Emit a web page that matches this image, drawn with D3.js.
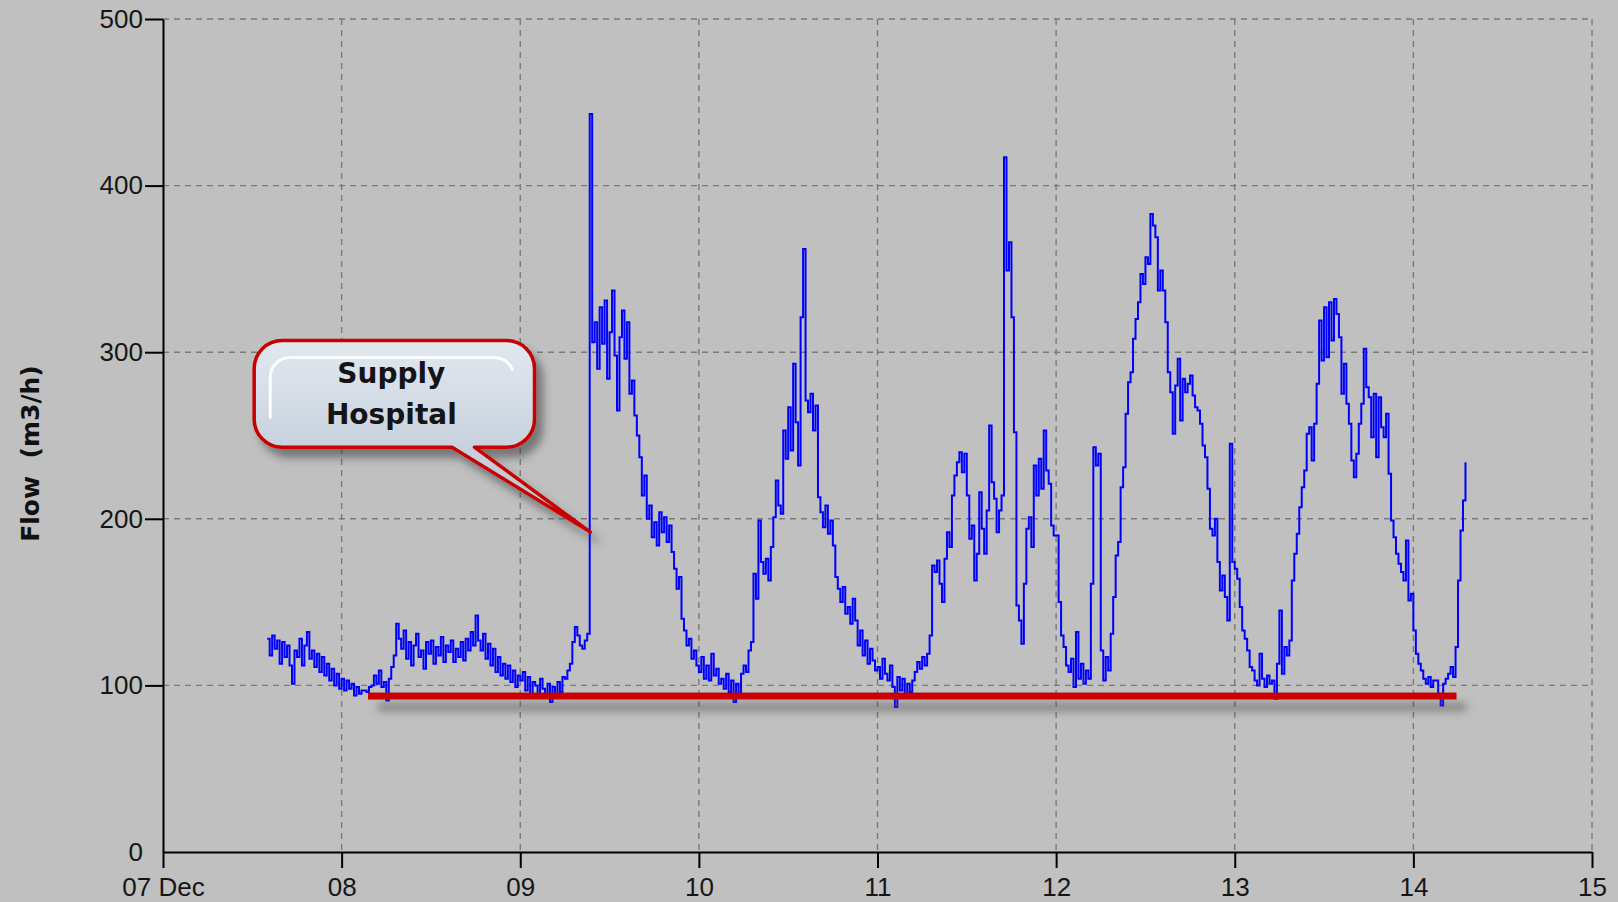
<!DOCTYPE html>
<html>
<head>
<meta charset="utf-8">
<script src="https://cdn.jsdelivr.net/npm/d3@7"></script>
<style>
  html, body { margin: 0; padding: 0; background: #c0c0c0; }
  svg { display: block; }
</style>
</head>
<body>
<svg id="chart" width="1618" height="902"></svg>
<script>
// Flow readings (m3/h), logged every 20 minutes, one array per calendar day.
// 07 Dec starts at 14:00, every other day starts at 00:00.
const flow07 = [
  128,118,130, 122,127,113, 126,117,124, 112,101,121, 117,128,112,
  124,132,116, 121,111,119, 108,117,106, 113,103,110, 100,107,98
];
const flow08 = [
  104,97,103, 98,101,94, 99,95,97, 97,96,99, 100,106,101, 109,99,102,
  91,104,111, 118,137,128, 122,133,116, 126,112,124, 131,117,121, 110,126,119,
  127,113,123, 118,129,114, 124,120,127, 114,122,117, 126,115,128, 121,132,124,
  142,127,121, 131,116,125, 112,122,108, 117,106,113, 104,112,102, 109,99,106
];
const flow09 = [
  103,108,97, 105,95,102, 100,94,104, 98,93,101, 90,99,95, 102,96,105,
  104,109,113, 126,135,130, 124,122,127, 131,443,306, 318,290,327, 305,331,284,
  312,337,298, 265,309,325, 296,318,275, 283,262,250, 237,214,226, 200,208,189,
  198,184,204, 192,201,186, 196,180,170, 158,165,140, 133,124,128, 116,121,112
];
const flow10 = [
  108,117,104, 112,103,119, 106,110,101, 104,98,107, 96,103,90, 101,95,107,
  112,108,121, 126,167,152, 199,174,167, 176,163,183, 201,223,208, 203,253,236,
  267,241,293, 258,232,321, 362,271,264, 275,253,268, 213,204,195, 208,191,199,
  184,165,158, 150,159,143, 147,137,152, 139,124,133, 118,127,113, 122,115,109
];
const flow11 = [
  111,104,116, 107,103,112, 99,87,105, 97,104,95, 101,96,103, 108,114,110,
  117,112,119, 130,172,168, 175,161,150, 176,192,183, 214,226,234, 240,228,239,
  214,188,196, 163,179,216, 194,179,205, 256,222,212, 192,205,214, 417,349,366,
  321,252,148, 139,125,161, 194,201,183, 232,214,236, 218,253,229, 221,196,190
];
const flow12 = [
  190,150,130, 123,112,108, 116,99,132, 104,113,101, 109,104,161, 243,232,239,
  121,103,117, 109,131,153, 178,186,219, 231,263,282, 288,308,320, 330,347,341,
  357,353,383, 376,369,337, 349,337,318, 288,276,251, 280,296,259, 284,276,281,
  286,274,267, 265,257,244, 237,218,194, 190,200,174, 157,166,153, 139,245,174
];
const flow13 = [
  170,164,147, 133,128,121, 111,109,103, 100,119,104, 99,106,101, 103,92,113,
  145,107,123, 118,127,163, 179,191,207, 219,229,251, 255,235,257, 281,319,295,
  327,297,330, 307,332,323, 309,275,293, 269,257,235, 225,239,257, 269,302,279,
  273,249,275, 237,273,255, 249,263,227, 199,189,179, 173,168,163, 187,151,155
];
const flow14 = [
  133,119,113, 109,104,101, 105,99,103, 103,95,88, 101,104,107, 111,105,123,
  163,193,211, 234
];

const logDays = [7, 8, 9, 10, 11, 12, 13, 14];
const logStartMinute = [14 * 60, 0, 0, 0, 0, 0, 0, 0];
const logStepMinutes = 20;

const yTicks = [0, 100, 200, 300, 400, 500];
const xTickDays = [7, 8, 9, 10, 11, 12, 13, 14, 15];
const xTickLabels = ["07 Dec", "08", "09", "10", "11", "12", "13", "14", "15"];

// Night-time minimum flow marker
const baselineValue = 93.6;
const baselineSpan = [Date.UTC(2010, 11, 8, 3, 33), Date.UTC(2010, 11, 14, 5, 48)];

// Callout pointing at the start of the hospital supply
const calloutLines = ["Supply", "Hospital"];
const calloutBoxTime = [Date.UTC(2010, 11, 7, 12, 15), Date.UTC(2010, 11, 9, 1, 55)];
const calloutBoxValue = [307, 243];
const calloutNeckTime = [Date.UTC(2010, 11, 8, 14, 50), Date.UTC(2010, 11, 8, 17, 50)];
const calloutTip = { time: Date.UTC(2010, 11, 9, 9, 25), value: 192 };

// ---------------------------------------------------------------------------
const dailySeries = [flow07, flow08, flow09, flow10, flow11, flow12, flow13, flow14];
const points = dailySeries.flatMap((vals, k) =>
  vals.map((v, i) => ({
    t: new Date(Date.UTC(2010, 11, logDays[k], 0, logStartMinute[k] + i * logStepMinutes)),
    v
  }))
);

const W = 1618, H = 902;
const margin = { top: 19, right: 26, bottom: 50, left: 163 };
const svg = d3.select("#chart");

const x = d3.scaleUtc()
  .domain([Date.UTC(2010, 11, 7), Date.UTC(2010, 11, 15)])
  .range([margin.left, W - margin.right]);
const y = d3.scaleLinear()
  .domain([0, 500])
  .range([H - margin.bottom, margin.top]);

const defs = svg.append("defs");

function shadowFilter(id, dx, dy, sd, color, opacity) {
  const f = defs.append("filter").attr("id", id)
    .attr("filterUnits", "userSpaceOnUse")
    .attr("x", 0).attr("y", 0).attr("width", W).attr("height", H);
  f.append("feDropShadow")
    .attr("dx", dx).attr("dy", dy).attr("stdDeviation", sd)
    .attr("flood-color", color).attr("flood-opacity", opacity);
}
shadowFilter("dropShadow", 7, 9, 4, "#3a3a3a", 0.55);
shadowFilter("lineShadow", 10, 11, 4.5, "#4a4a4a", 0.6);

const boxFill = defs.append("linearGradient").attr("id", "boxFill")
  .attr("x1", 0).attr("y1", 0).attr("x2", 0).attr("y2", 1);
boxFill.append("stop").attr("offset", "0%").attr("stop-color", "#e2e8f0");
boxFill.append("stop").attr("offset", "45%").attr("stop-color", "#cdd6e1");
boxFill.append("stop").attr("offset", "100%").attr("stop-color", "#b5c0cf");

// Grid
const grid = svg.append("g")
  .attr("stroke", "#7a7a7a")
  .attr("stroke-width", 1.4)
  .attr("stroke-dasharray", "6,5");
grid.selectAll("line.h")
  .data(yTicks.filter(d => d > 0))
  .join("line")
  .attr("class", "h")
  .attr("x1", x.range()[0]).attr("x2", x.range()[1])
  .attr("y1", d => y(d)).attr("y2", d => y(d));
grid.selectAll("line.v")
  .data(xTickDays.filter(d => d > 7))
  .join("line")
  .attr("class", "v")
  .attr("x1", d => x(Date.UTC(2010, 11, d))).attr("x2", d => x(Date.UTC(2010, 11, d)))
  .attr("y1", y(500)).attr("y2", y(0));

// Flow trace (logger steps)
svg.append("path")
  .datum(points)
  .attr("fill", "none")
  .attr("stroke", "#0000ff")
  .attr("stroke-width", 2)
  .attr("d", d3.line().curve(d3.curveStepAfter).x(d => x(d.t)).y(d => y(d.v)));

// Minimum night flow marker
const baseTh = 7;
svg.append("rect")
  .attr("x", x(baselineSpan[0]))
  .attr("width", x(baselineSpan[1]) - x(baselineSpan[0]))
  .attr("y", y(baselineValue) - baseTh / 2)
  .attr("height", baseTh)
  .attr("fill", "#c80000")
  .attr("filter", "url(#lineShadow)");

// Axes
const axisFont = "'Liberation Sans', Arial, sans-serif";
const yAxis = svg.append("g")
  .attr("transform", `translate(${margin.left},0)`)
  .call(d3.axisLeft(y).tickValues(yTicks).tickSize(18).tickSizeOuter(0).tickPadding(2));
yAxis.select(".domain").attr("stroke", "#000").attr("stroke-width", 2);
yAxis.selectAll(".tick line").attr("stroke", "#000").attr("stroke-width", 2)
  .filter(d => d === 0).remove();
yAxis.selectAll(".tick text")
  .attr("font-family", axisFont).attr("font-size", 26).attr("fill", "#161616");

const xAxis = svg.append("g")
  .attr("transform", `translate(0,${y(0)})`)
  .call(d3.axisBottom(x)
    .tickValues(xTickDays.map(d => new Date(Date.UTC(2010, 11, d))))
    .tickFormat((d, i) => xTickLabels[i])
    .tickSize(16).tickSizeOuter(0).tickPadding(10));
xAxis.select(".domain").attr("stroke", "#000").attr("stroke-width", 2);
xAxis.selectAll(".tick line").attr("stroke", "#000").attr("stroke-width", 2);
xAxis.selectAll(".tick text")
  .attr("font-family", axisFont).attr("font-size", 26).attr("fill", "#161616");

svg.append("text")
  .attr("transform", `translate(39,${(y(0) + y(500)) / 2 + 18}) rotate(-90)`)
  .attr("text-anchor", "middle")
  .attr("font-family", "'DejaVu Sans', sans-serif")
  .attr("font-weight", "bold")
  .attr("font-size", 25)
  .attr("fill", "#111")
  .style("white-space", "pre")
  .text("Flow  (m3/h)");

// Callout
const bx0 = x(calloutBoxTime[0]), bx1 = x(calloutBoxTime[1]);
const by0 = y(calloutBoxValue[0]), by1 = y(calloutBoxValue[1]);
const nL = x(calloutNeckTime[0]), nR = x(calloutNeckTime[1]);
const tipX = x(calloutTip.time), tipY = y(calloutTip.value);
const r = 28;
const calloutPath = [
  `M${bx0 + r},${by0}`,
  `H${bx1 - r}`,
  `A${r},${r} 0 0 1 ${bx1},${by0 + r}`,
  `V${by1 - r}`,
  `A${r},${r} 0 0 1 ${bx1 - r},${by1}`,
  `H${nR}`,
  `L${tipX},${tipY}`,
  `L${nL},${by1}`,
  `H${bx0 + r}`,
  `A${r},${r} 0 0 1 ${bx0},${by1 - r}`,
  `V${by0 + r}`,
  `A${r},${r} 0 0 1 ${bx0 + r},${by0}`,
  "Z"
].join(" ");

const callout = svg.append("g");
callout.append("path")
  .attr("d", calloutPath)
  .attr("fill", "url(#boxFill)")
  .attr("stroke", "#c80000")
  .attr("stroke-width", 3.5)
  .attr("stroke-linejoin", "round")
  .attr("filter", "url(#dropShadow)");

// glossy highlight along the inner top-left edge
const ir = 20, ix0 = bx0 + 16, iy0 = by0 + 17, ix1 = bx1 - 22, iy1 = by1 - 30;
callout.append("path")
  .attr("d", `M${ix0},${iy1} V${iy0 + ir} A${ir},${ir} 0 0 1 ${ix0 + ir},${iy0} H${ix1 - ir} A${ir},${ir} 0 0 1 ${ix1},${iy0 + ir * 0.6}`)
  .attr("fill", "none")
  .attr("stroke", "#ffffff")
  .attr("stroke-opacity", 0.95)
  .attr("stroke-width", 3)
  .attr("stroke-linecap", "round");

callout.selectAll("text")
  .data(calloutLines)
  .join("text")
  .attr("x", (bx0 + bx1) / 2 - 3)
  .attr("y", (d, i) => by0 + 42 + i * 41)
  .attr("text-anchor", "middle")
  .attr("font-family", "'DejaVu Sans', sans-serif")
  .attr("font-weight", "bold")
  .attr("font-size", 28)
  .attr("fill", "#141414")
  .text(d => d);
</script>
</body>
</html>
